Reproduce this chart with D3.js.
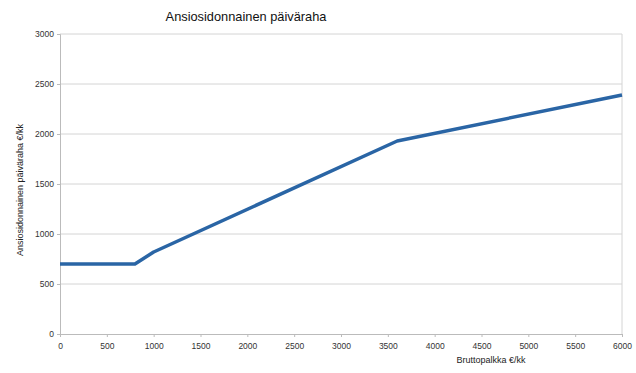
<!DOCTYPE html>
<html>
<head>
<meta charset="utf-8">
<script src="https://cdn.jsdelivr.net/npm/d3@7"></script>
<style>
  body { margin: 0; background: #fff; }
  svg { font-family: "Liberation Sans", Arial, sans-serif; }
  .axis text { fill: #333; font-size: 8.5px; }
</style>
</head>
<body>
<svg id="chart" width="636" height="373"></svg>
<script>
var chartWidth = 636;
var chartHeight = 373;

// data
var palkka = [0, 800, 1000, 3600, 6000];
var paivaraha = [700, 700, 820, 1930, 2390];
var xTicks = [0, 500, 1000, 1500, 2000, 2500, 3000, 3500, 4000, 4500, 5000, 5500, 6000];
var yTicks = [0, 500, 1000, 1500, 2000, 2500, 3000];

var plotLeft = 60, plotRight = 622, plotTop = 34, plotBottom = 334;

var x = d3.scaleLinear().domain([0, 6000]).range([plotLeft, plotRight]);
var y = d3.scaleLinear().domain([0, 3000]).range([plotBottom, plotTop]);

var svg = d3.select("#chart");

// gridlines
svg.append("g")
    .selectAll("line")
    .data(yTicks.filter(function(d){ return d > 0; }))
    .enter().append("line")
    .attr("x1", plotLeft)
    .attr("x2", plotRight)
    .attr("y1", function(d){ return y(d); })
    .attr("y2", function(d){ return y(d); })
    .attr("stroke", "#d4d4d4")
    .attr("stroke-width", 1);

// right border
svg.append("line")
    .attr("x1", plotRight).attr("x2", plotRight)
    .attr("y1", plotTop).attr("y2", plotBottom)
    .attr("stroke", "#d4d4d4");

var yAxisGroup = svg.append("g")
    .attr("class", "axis")
    .attr("transform", "translate(" + plotLeft + ",0)")
    .call(d3.axisLeft(y).tickValues(yTicks).tickFormat(d3.format("d")).tickSize(3).tickPadding(3));

var xAxisGroup = svg.append("g")
    .attr("class", "axis")
    .attr("transform", "translate(0," + plotBottom + ")")
    .call(d3.axisBottom(x).tickValues(xTicks).tickFormat(d3.format("d")).tickSize(3).tickPadding(6));

svg.selectAll(".axis path, .axis line").attr("stroke", "#bbb");

// the line
var line = d3.line()
    .x(function(d){ return x(d[0]); })
    .y(function(d){ return y(d[1]); });

svg.append("path")
    .datum(d3.zip(palkka, paivaraha))
    .attr("d", line)
    .attr("fill", "none")
    .attr("stroke", "#2a65a5")
    .attr("stroke-width", 3.5)
    .attr("stroke-linejoin", "round");

svg.append("text")
    .attr("x", 246)
    .attr("y", 21)
    .attr("text-anchor", "middle")
    .attr("font-size", "12.8px")
    .attr("fill", "#111")
    .text("Ansiosidonnainen päiväraha");

svg.append("text")
    .attr("x", 491)
    .attr("y", 363)
    .attr("text-anchor", "middle")
    .attr("font-size", "9px")
    .attr("fill", "#222")
    .text("Bruttopalkka €/kk");

svg.append("text")
    .attr("transform", "translate(23,190) rotate(-90)")
    .attr("text-anchor", "middle")
    .attr("font-size", "9px")
    .attr("fill", "#222")
    .text("Ansiosidonnainen päiväraha €/kk");
</script>
</body>
</html>
